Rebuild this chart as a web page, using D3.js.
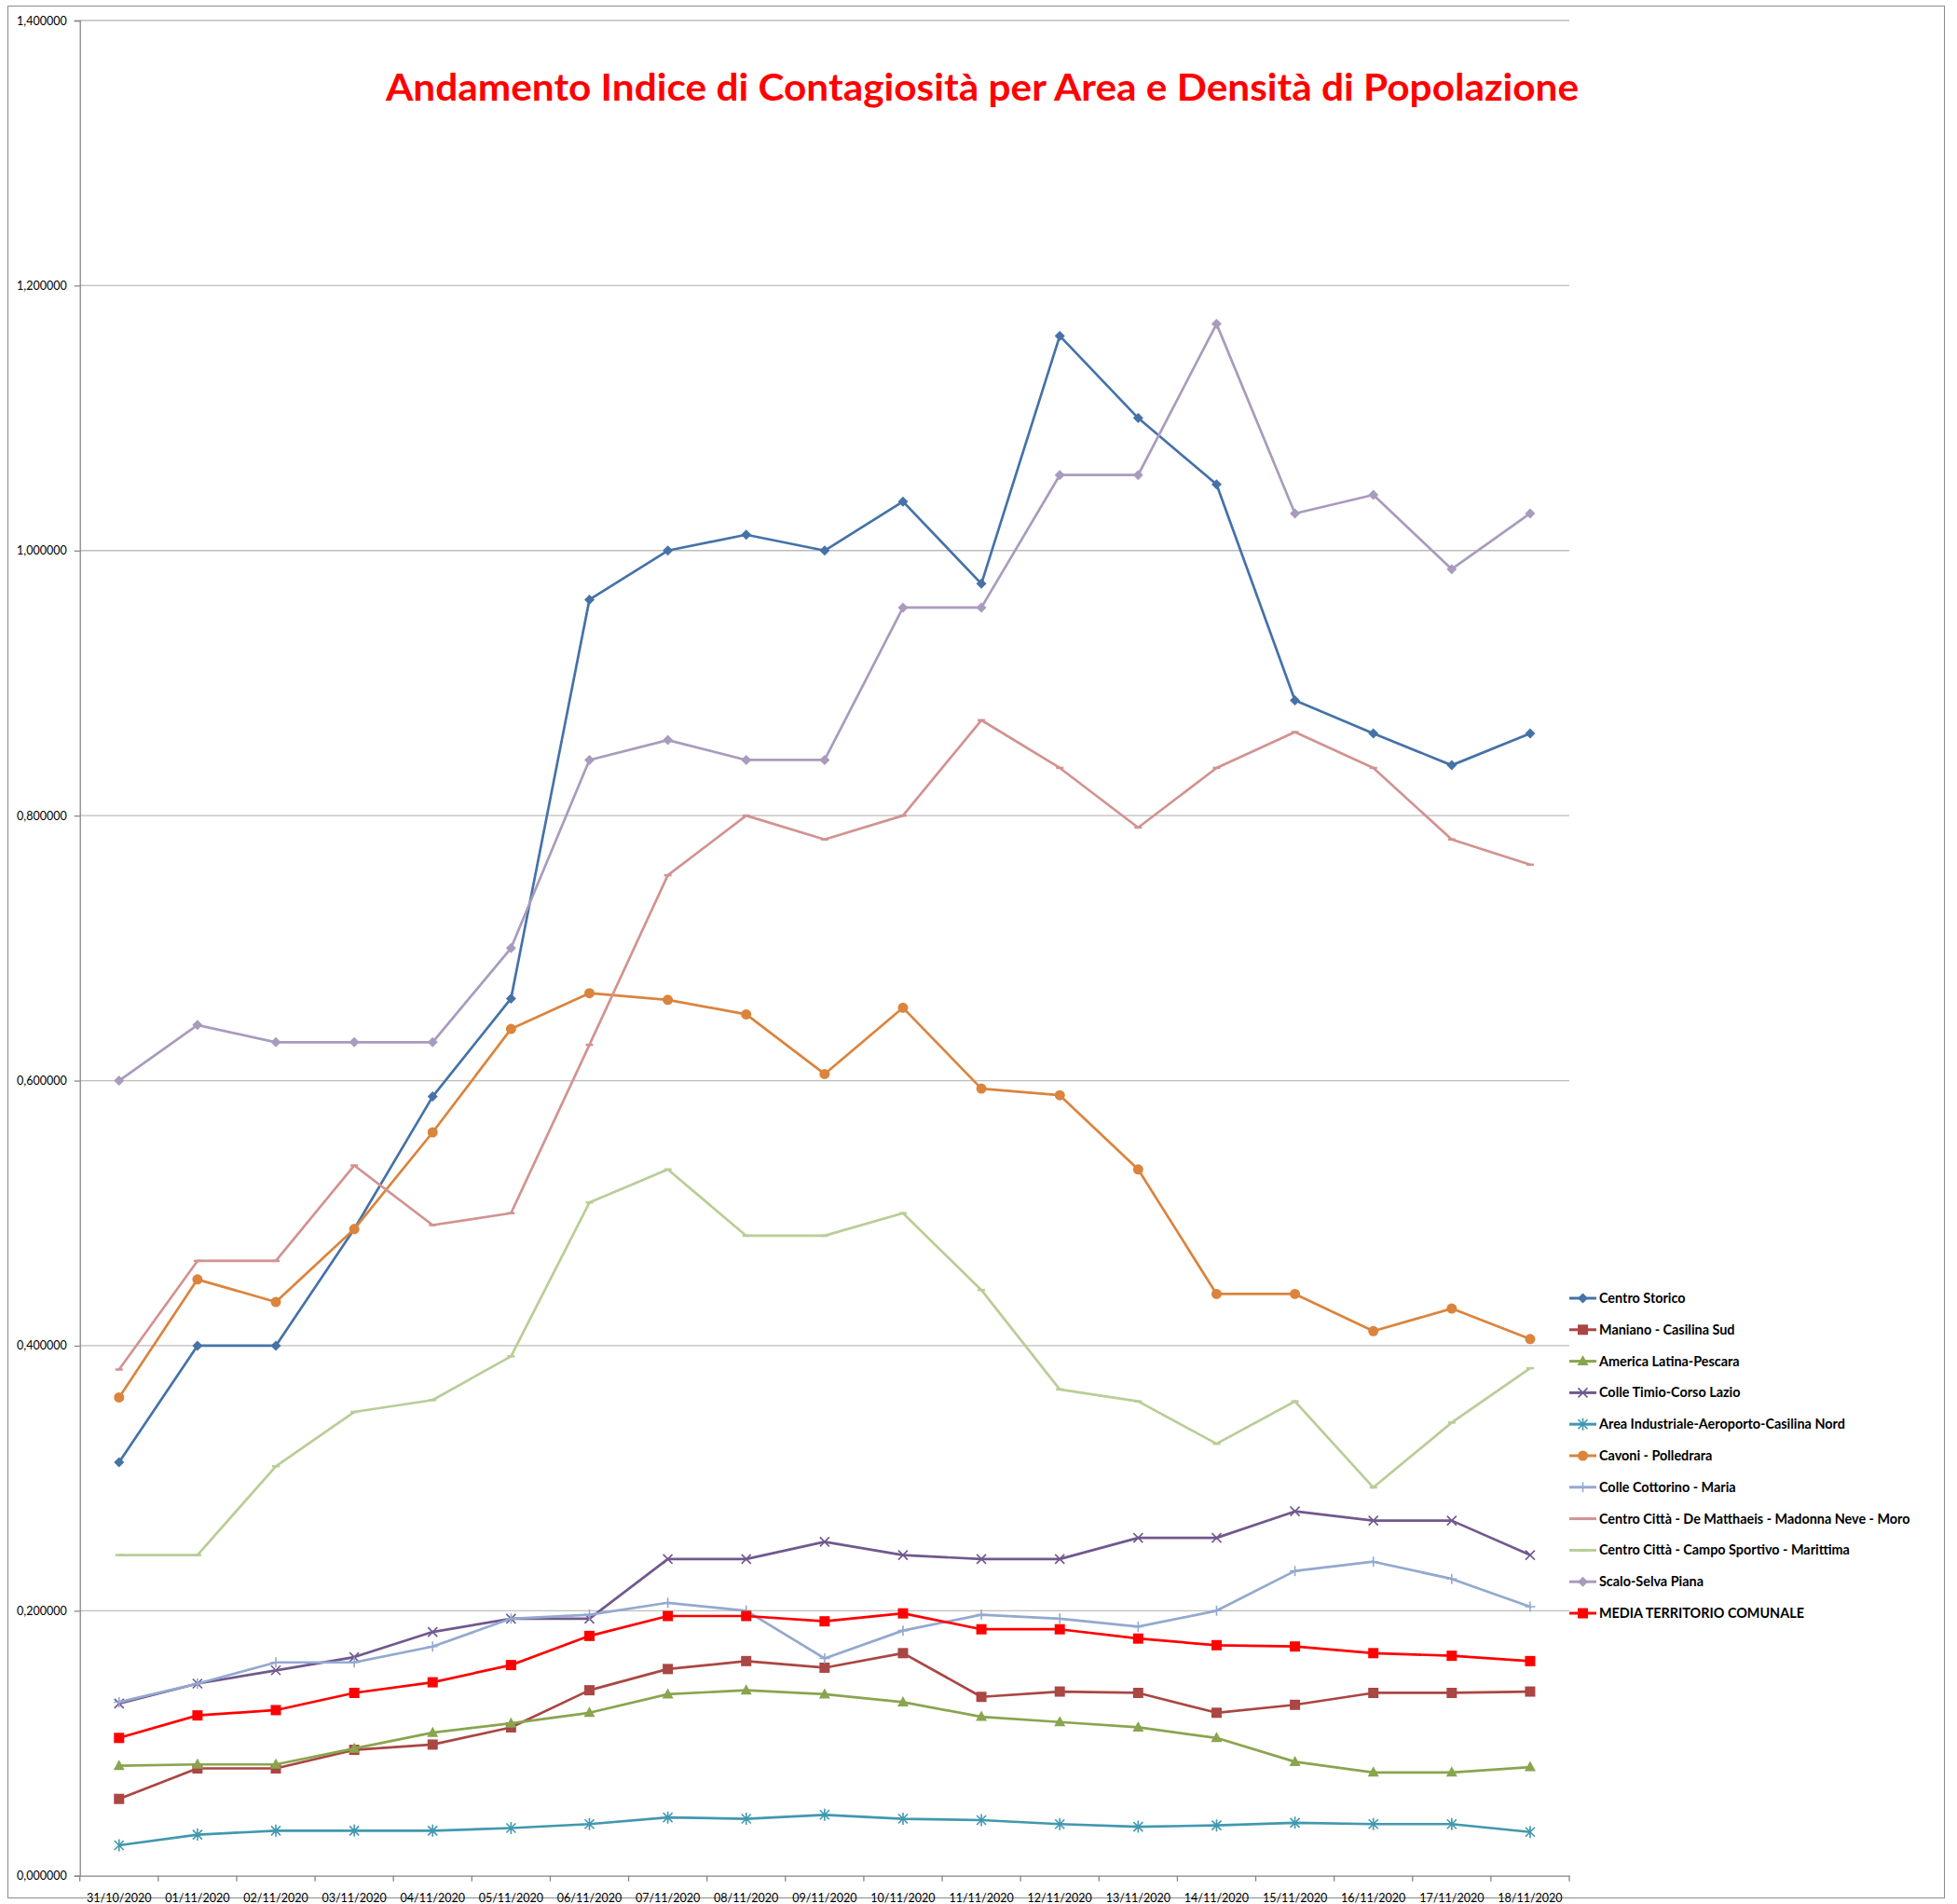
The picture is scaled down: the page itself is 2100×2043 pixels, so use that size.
<!DOCTYPE html>
<html><head><meta charset="utf-8">
<script src="https://cdn.jsdelivr.net/npm/d3@7"></script>
<style>html,body{margin:0;padding:0;background:#fff;}svg{display:block;}</style>
</head><body>
<svg id="chart" width="2100" height="2043"></svg>
<script>
const dates = ["31/10/2020","01/11/2020","02/11/2020","03/11/2020","04/11/2020","05/11/2020","06/11/2020","07/11/2020","08/11/2020","09/11/2020","10/11/2020","11/11/2020","12/11/2020","13/11/2020","14/11/2020","15/11/2020","16/11/2020","17/11/2020","18/11/2020"];
const yTicks = [0,0.2,0.4,0.6,0.8,1.0,1.2,1.4];
const title = "Andamento Indice di Contagiosità per Area e Densità di Popolazione";

const seriesNames = ["Centro Storico","Maniano - Casilina Sud","America Latina-Pescara","Colle Timio-Corso Lazio","Area Industriale-Aeroporto-Casilina Nord","Cavoni - Polledrara","Colle Cottorino - Maria","Centro Città - De Matthaeis - Madonna Neve - Moro","Centro Città - Campo Sportivo - Marittima","Scalo-Selva Piana","MEDIA TERRITORIO COMUNALE"];
const seriesColors = ["#4572A7","#AA4643","#89A54E","#71588F","#4198AF","#DB843D","#93A9CF","#D19392","#B9CD96","#A99BBD","#FF0000"];
const seriesMarkers = ["diamond","square","triangle","x","star","circle","plus","dash","dash","diamond","square"];

const centroStorico   = [0.312,0.400,0.400,0.488,0.588,0.662,0.963,1.000,1.012,1.000,1.037,0.975,1.162,1.100,1.050,0.887,0.862,0.838,0.862];
const maniano         = [0.058,0.081,0.081,0.095,0.099,0.112,0.140,0.156,0.162,0.157,0.168,0.135,0.139,0.138,0.123,0.129,0.138,0.138,0.139];
const americaLatina   = [0.083,0.084,0.084,0.096,0.108,0.115,0.123,0.137,0.140,0.137,0.131,0.120,0.116,0.112,0.104,0.086,0.078,0.078,0.082];
const colleTimio      = [0.130,0.145,0.155,0.165,0.184,0.194,0.194,0.239,0.239,0.252,0.242,0.239,0.239,0.255,0.255,0.275,0.268,0.268,0.242];
const areaIndustriale = [0.023,0.031,0.034,0.034,0.034,0.036,0.039,0.044,0.043,0.046,0.043,0.042,0.039,0.037,0.038,0.040,0.039,0.039,0.033];
const cavoni          = [0.361,0.450,0.433,0.488,0.561,0.639,0.666,0.661,0.650,0.605,0.655,0.594,0.589,0.533,0.439,0.439,0.411,0.428,0.405];
const colleCottorino  = [0.131,0.145,0.161,0.161,0.173,0.194,0.197,0.206,0.200,0.164,0.185,0.197,0.194,0.188,0.200,0.230,0.237,0.224,0.203];
const deMatthaeis     = [0.382,0.464,0.464,0.536,0.491,0.500,0.627,0.755,0.800,0.782,0.800,0.872,0.836,0.791,0.836,0.863,0.836,0.782,0.763];
const campoSportivo   = [0.242,0.242,0.309,0.350,0.359,0.392,0.508,0.533,0.483,0.483,0.500,0.442,0.367,0.358,0.326,0.358,0.293,0.342,0.383];
const scaloSelvaPiana = [0.600,0.642,0.629,0.629,0.629,0.700,0.842,0.857,0.842,0.842,0.957,0.957,1.057,1.057,1.171,1.028,1.042,0.986,1.028];
const mediaComunale   = [0.104,0.121,0.125,0.138,0.146,0.159,0.181,0.196,0.196,0.192,0.198,0.186,0.186,0.179,0.174,0.173,0.168,0.166,0.162];

const seriesValues = [centroStorico,maniano,americaLatina,colleTimio,areaIndustriale,cavoni,colleCottorino,deMatthaeis,campoSportivo,scaloSelvaPiana,mediaComunale];

const series = seriesNames.map((n,i)=>({name:n,color:seriesColors[i],marker:seriesMarkers[i],values:seriesValues[i]}));

const FONT = "Lato, 'Noto Sans', sans-serif";
const svg = d3.select("#chart");
const L = 85.7, R = 1684, T = 22, B = 2012.7;

// outer frame
svg.append("rect").attr("x",8.5).attr("y",6.5).attr("width",2078).attr("height",2030)
  .attr("fill","#fff").attr("stroke","#8c8c8c").attr("stroke-width",1);

const xBand = d3.scaleBand().domain(dates).range([L,R]).padding(0);
const x = d3.scalePoint().domain(dates).range([L,R]).padding(0.5);
const y = d3.scaleLinear().domain([0,1.4]).range([B,T]);

// gridlines
svg.append("g").selectAll("line").data(yTicks.filter(d=>d>0)).join("line")
  .attr("x1",L).attr("x2",R).attr("y1",d=>y(d)).attr("y2",d=>y(d))
  .attr("stroke","#bdbdbd").attr("stroke-width",1.3);

// y axis
const yAxis = d3.axisLeft(y).tickValues(yTicks).tickSize(6).tickPadding(8)
  .tickFormat(d=>d3.format(".6f")(d).replace(".",","));
const gy = svg.append("g").attr("transform",`translate(${L},0)`).call(yAxis);
gy.select(".domain").attr("stroke","#868686").attr("stroke-width",1.3);
gy.selectAll(".tick line").attr("stroke","#868686").attr("stroke-width",1.3);
gy.selectAll("text").attr("font-family",FONT).attr("font-size",12.5).attr("fill","#000");

// x axis
const xAxis = d3.axisBottom(xBand).tickSize(0).tickPadding(19);
const gx = svg.append("g").attr("transform",`translate(0,${B})`).call(xAxis);
gx.select(".domain").attr("stroke","#868686").attr("stroke-width",1.3);
gx.selectAll("text").attr("font-family",FONT).attr("font-size",12.5).attr("fill","#000");
svg.append("g").selectAll("line").data(dates.concat(["__end"])).join("line")
  .attr("x1",d=>d==="__end"?R:xBand(d)).attr("x2",d=>d==="__end"?R:xBand(d))
  .attr("y1",B).attr("y2",B+6).attr("stroke","#868686").attr("stroke-width",1.3);

function markerPath(type){
  switch(type){
    case "diamond": return "M0,-5.5L5.5,0L0,5.5L-5.5,0Z";
    case "square": return "M-5.5,-5.5H5.5V5.5H-5.5Z";
    case "triangle": return "M0,-6.5L6,4.5H-6Z";
    case "x": return "M-5,-5L5,5M-5,5L5,-5";
    case "star": return "M-5,-5L5,5M-5,5L5,-5M0,-6.5V6.5";
    case "plus": return "M-5.5,0H5.5M0,-5.5V5.5";
    case "dash": return "M-4,0H4";
  }
}
function drawMarker(g, type, color){
  const filled = ["diamond","square","triangle"].includes(type);
  if(type==="circle"){
    g.append("circle").attr("r",5.5).attr("fill",color);
  } else if(filled){
    g.append("path").attr("d",markerPath(type)).attr("fill",color);
  } else {
    g.append("path").attr("d",markerPath(type)).attr("fill","none").attr("stroke",color)
      .attr("stroke-width",type==="dash"?2.5:1.6);
  }
}

const line = d3.line().x((d,i)=>x(dates[i])).y(d=>y(d));
const plot = svg.append("g");
series.forEach(s=>{
  const g = plot.append("g");
  g.append("path").attr("d",line(s.values)).attr("fill","none").attr("stroke",s.color)
    .attr("stroke-width",2.7).attr("stroke-linejoin","round");
  s.values.forEach((v,i)=>{
    const mg = g.append("g").attr("transform",`translate(${x(dates[i])},${y(v)})`);
    drawMarker(mg, s.marker, s.color);
  });
});

// title
svg.append("text").attr("x",414).attr("y",108).text(title)
  .attr("font-family",FONT).attr("font-weight","bold").attr("font-size",40).attr("fill","#FF0000")
  .attr("textLength",1280).attr("lengthAdjust","spacingAndGlyphs");

// legend
const lg = svg.append("g");
series.forEach((s,k)=>{
  const yy = 1393 + k*33.8;
  const g = lg.append("g").attr("transform",`translate(0,${yy})`);
  g.append("line").attr("x1",1684).attr("x2",1713).attr("y1",0).attr("y2",0)
    .attr("stroke",s.color).attr("stroke-width",3);
  const mg = g.append("g").attr("transform","translate(1698.5,0)");
  drawMarker(mg, s.marker, s.color);
  g.append("text").attr("x",1716).attr("y",0).attr("dy","0.35em").text(s.name)
    .attr("font-family",FONT).attr("font-weight","bold").attr("font-size",14.4).attr("fill","#000");
});
</script>
</body></html>
